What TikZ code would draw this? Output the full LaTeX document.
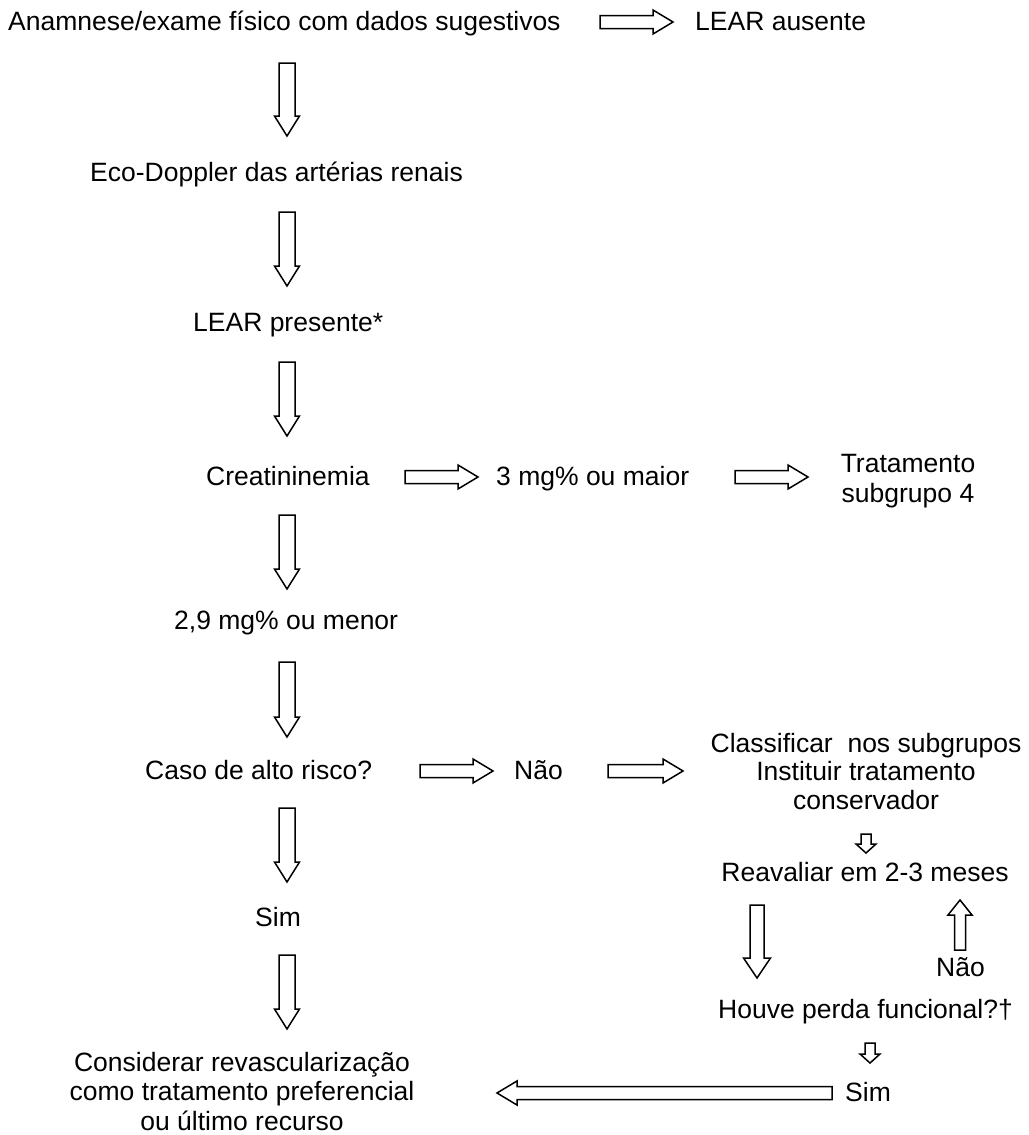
\documentclass[tikz,border=0pt]{standalone}
\usepackage{fontspec}
\setmainfont{Liberation Sans}
\usetikzlibrary{calc}
\tikzset{
  lbl/.style={inner sep=0pt, font=\fontsize{26.5}{29.5}\selectfont, anchor=base},
  lblw/.style={lbl, anchor=base west},
  mlbl/.style={inner sep=0pt, font=\fontsize{26.5}{29.5}\selectfont, align=center, anchor=base},
  barr/.style={draw=black, line width=1.5pt, line join=miter, fill=white}
}
% #1 tail, #2 tip, #3 shaft half width, #4 head half width, #5 head length (all in pt)
\newcommand\blockarrow[5]{%
  \coordinate (hb) at ($(#2)!#5pt!(#1)$);
  \draw[barr] ($(#1)!#3pt!90:(#2)$) -- ($(hb)!#3pt!90:(#2)$) -- ($(hb)!#4pt!90:(#2)$) -- (#2)
    -- ($(hb)!#4pt!-90:(#2)$) -- ($(hb)!#3pt!-90:(#2)$) -- ($(#1)!#3pt!-90:(#2)$) -- cycle;}
\begin{document}
\begin{tikzpicture}[x=1pt,y=-1pt]
\useasboundingbox (0,0) rectangle (1028,1135);
% text nodes (multi-line nodes are placed at the baseline of their last line)
\node[lblw] (anam) at (8,30) {Anamnese/exame físico com dados sugestivos};
\node[lblw] (ausente) at (695,30) {LEAR ausente};
\node[lblw] (eco) at (90,181) {Eco-Doppler das artérias renais};
\node[lblw] (presente) at (193,331) {LEAR presente*};
\node[lblw] (creat) at (206,485) {Creatininemia};
\node[lblw] (maior) at (496,485) {3 mg\% ou maior};
\node[mlbl] (sub4) at (908,502) {Tratamento\\subgrupo 4};
\node[lblw] (menor) at (174,629) {2,9 mg\% ou menor};
\node[lblw] (risco) at (145,779) {Caso de alto risco?};
\node[lblw] (nao1) at (514,779) {Não};
\node[mlbl, font=\fontsize{26.5}{28.5}\selectfont] (classif) at (866,809) {Classificar~ nos subgrupos\\Instituir tratamento\\conservador};
\node[lbl] (reav) at (865,881) {Reavaliar em 2-3 meses};
\node[lblw] (nao2) at (936,976) {Não};
\node[lblw] (perda) at (718,1018) {Houve perda funcional?†};
\node[lblw] (sim2) at (845,1101) {Sim};
\node[lblw] (sim1) at (255,926) {Sim};
\node[mlbl] (revasc) at (242,1130) {Considerar revascularização\\como tratamento preferencial\\ou último recurso};
% arrow end coordinates
\coordinate (v1a) at (287,63);   \coordinate (v1b) at (287,136);
\coordinate (v2a) at (287,212);  \coordinate (v2b) at (287,286);
\coordinate (v3a) at (287,362);  \coordinate (v3b) at (287,436);
\coordinate (v4a) at (287,515);  \coordinate (v4b) at (287,589);
\coordinate (v5a) at (287,662);  \coordinate (v5b) at (287,737);
\coordinate (v6a) at (287,808);  \coordinate (v6b) at (287,882);
\coordinate (v7a) at (287,955);  \coordinate (v7b) at (287,1029);
\coordinate (h1a) at (600,22);   \coordinate (h1b) at (673,22);
\coordinate (h2a) at (405,477);  \coordinate (h2b) at (478,477);
\coordinate (h3a) at (735,477);  \coordinate (h3b) at (808,477);
\coordinate (h4a) at (420,771);  \coordinate (h4b) at (493,771);
\coordinate (h5a) at (608,771);  \coordinate (h5b) at (683,771);
\coordinate (lga) at (832,1093); \coordinate (lgb) at (497,1093);
\coordinate (s1a) at (866,834);  \coordinate (s1b) at (866,853);
\coordinate (s2a) at (870,1043); \coordinate (s2b) at (870,1063);
\coordinate (rda) at (757,905);  \coordinate (rdb) at (757,978);
\coordinate (rua) at (960,950);  \coordinate (rub) at (960,900);
% arrows
\foreach \a/\b in {v1a/v1b,v2a/v2b,v3a/v3b,v4a/v4b,v5a/v5b,v6a/v6b,v7a/v7b}
  {\blockarrow{\a}{\b}{8}{12.5}{20}}
\foreach \a/\b in {h1a/h1b,h2a/h2b,h3a/h3b,h4a/h4b,h5a/h5b,lga/lgb}
  {\blockarrow{\a}{\b}{6.5}{12}{20}}
\blockarrow{rda}{rdb}{7}{13.5}{20}
\blockarrow{rua}{rub}{5.5}{12}{15}
\blockarrow{s1a}{s1b}{5}{10}{9}
\blockarrow{s2a}{s2b}{5}{10}{9}
\end{tikzpicture}
\end{document}
